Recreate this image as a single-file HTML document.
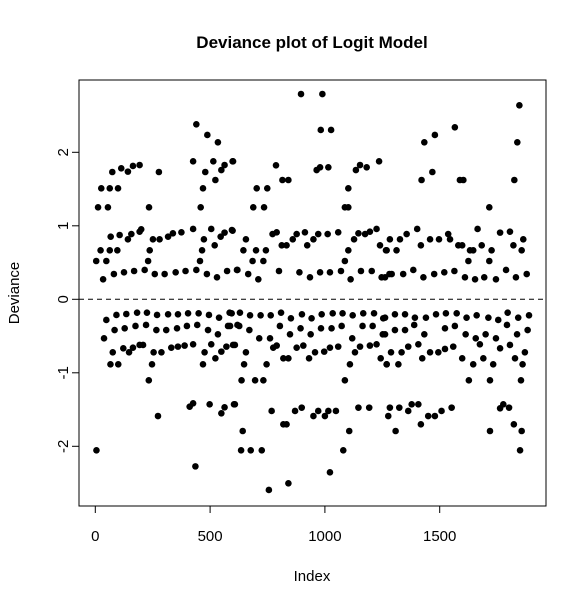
<!DOCTYPE html>
<html><head><meta charset="utf-8"><style>
body{margin:0;background:#fff;}
svg{display:block;font-family:"Liberation Sans",Arial,sans-serif;}
</style></head><body>
<svg id="chart" width="587" height="604">
<text x="312" y="48" text-anchor="middle" font-size="17" font-weight="bold">Deviance plot of Logit Model</text>
<text x="312" y="581" text-anchor="middle" font-size="15">Index</text>
<text transform="translate(19,293) rotate(-90)" text-anchor="middle" font-size="15">Deviance</text>
<rect x="79" y="80" width="467" height="426" fill="none" stroke="#000" stroke-width="1"/>
<g id="axes"></g><g id="pts"></g>
</svg>
<script>
const xTicks=[0,500,1000,1500];
const yTicks=[-2,-1,0,1,2];
const idx=[440,488,534,426,514,479,549,563,600,74,113,142,164,193,277,26,63,99,469,523,12,55,234,459,
67,106,142,157,193,200,251,280,317,338,375,426,473,505,520,546,563,595,23,63,96,237,465,4,48,230,456,
34,81,125,169,215,259,302,350,393,440,486,530,574,617,
48,92,135,182,225,269,317,360,404,450,495,539,585,
38,84,128,175,221,266,309,356,399,444,491,534,578,619,
76,122,147,164,193,208,254,288,331,360,389,426,476,505,523,549,571,600,66,100,247,469,233,
411,426,498,549,563,604,273,5,436,
896,989,982,1027,598,787,964,979,1015,1135,1153,1182,1236,703,749,815,841,1102,688,735,1087,1102,
598,656,772,790,812,833,860,877,913,923,950,971,1012,1058,1127,1146,1175,1196,1225,1240,1266,645,700,743,1102,685,732,1087,
619,666,710,800,889,935,979,1022,1070,1112,1157,1204,1247,1281,
594,630,674,720,764,809,852,900,942,986,1034,1077,1121,1167,1214,1254,
587,627,671,714,761,804,848,894,938,983,1029,1073,1119,1164,1208,1252,
608,656,775,790,819,841,877,906,931,957,997,1022,1058,1131,1153,1196,1225,1243,1269,648,746,1109,637,696,732,1087,
608,768,819,833,870,899,950,971,1000,1015,1048,1146,1193,1276,642,1106,635,677,725,1080,1022,841,756,
1847,1566,1479,1433,1838,1421,1468,1588,1603,1825,1716,
1283,1327,1356,1402,1418,1458,1497,1537,1545,1581,1598,1632,1646,1665,1683,1726,1763,1806,1821,1864,1857,1269,1312,1625,1716,
1262,1291,1341,1385,1429,1476,1520,1564,1610,1654,1694,1745,1789,1832,1879,
1262,1305,1349,1392,1440,1484,1527,1574,1617,1661,1712,1755,1796,1842,1889,
1262,1305,1349,1389,1433,1523,1566,1613,1657,1700,1745,1793,1837,1883,
1288,1334,1363,1407,1424,1458,1494,1523,1559,1598,1646,1675,1690,1733,1763,1806,1828,1871,1861,1269,1320,1627,1719,1854,
1283,1324,1363,1378,1407,1418,1450,1479,1508,1552,1763,1777,1802,1719,1823,1857,1308,1850];
const dev=[2.381,2.236,2.136,1.877,1.877,1.732,1.759,1.827,1.877,1.732,1.782,1.737,1.814,1.827,1.732,1.51,1.51,1.51,1.51,1.623,1.251,1.251,1.251,1.251,
.852,.875,.816,.888,.92,.952,.816,.816,.852,.898,.911,.957,.816,.957,.734,.852,.907,.943,.666,.666,.666,.666,.666,.521,.521,.521,.521,
.272,.344,.367,.385,.399,.344,.344,.367,.385,.399,.344,.299,.385,.399,
-.281,-.213,-.2,-.182,-.182,-.213,-.204,-.204,-.191,-.191,-.213,-.25,-.182,
-.531,-.418,-.395,-.363,-.349,-.418,-.418,-.395,-.363,-.349,-.418,-.476,-.363,-.349,
-.721,-.667,-.721,-.658,-.621,-.621,-.721,-.721,-.658,-.644,-.63,-.612,-.721,-.612,-.803,-.712,-.644,-.621,-.885,-.885,-.885,-.885,-1.102,
-1.461,-1.415,-1.429,-1.551,-1.47,-1.429,-1.588,-2.055,-2.273,
2.793,2.793,2.304,2.304,1.877,1.823,1.759,1.796,1.796,1.759,1.827,1.796,1.877,1.51,1.51,1.623,1.623,1.51,1.251,1.251,1.251,1.251,
.934,.816,.888,.911,.734,.734,.816,.888,.911,.734,.816,.888,.888,.911,.816,.898,.888,.92,.957,.734,.666,.666,.666,.666,.666,.521,.521,.521,
.399,.344,.272,.385,.367,.299,.367,.367,.385,.272,.385,.385,.299,.344,
-.191,-.182,-.218,-.218,-.218,-.182,-.259,-.204,-.259,-.204,-.191,-.191,-.218,-.191,-.191,-.259,
-.363,-.363,-.418,-.531,-.531,-.363,-.476,-.395,-.476,-.395,-.395,-.363,-.531,-.363,-.363,-.476,
-.621,-.721,-.658,-.63,-.803,-.803,-.658,-.63,-.803,-.721,-.712,-.658,-.644,-.721,-.644,-.63,-.612,-.803,-.885,-.885,-.885,-.885,-1.102,-1.102,-1.102,-1.102,
-1.429,-1.519,-1.701,-1.701,-1.519,-1.474,-1.588,-1.519,-1.588,-1.519,-1.519,-1.474,-1.474,-1.588,-1.792,-1.792,-2.055,-2.055,-2.055,-2.055,-2.354,-2.504,-2.594,
2.639,2.34,2.236,2.136,2.136,1.623,1.732,1.623,1.623,1.623,1.251,
.816,.816,.888,.957,.734,.816,.816,.888,.816,.734,.734,.666,.666,.957,.734,.666,.907,.92,.734,.816,.666,.666,.666,.521,.521,
.299,.344,.344,.399,.299,.344,.367,.385,.299,.272,.299,.272,.399,.299,.344,
-.25,-.204,-.204,-.25,-.25,-.204,-.191,-.191,-.25,-.218,-.25,-.281,-.182,-.25,-.218,
-.476,-.418,-.418,-.349,-.476,-.395,-.363,-.476,-.531,-.476,-.531,-.349,-.476,-.418,
-.721,-.721,-.644,-.612,-.803,-.721,-.721,-.676,-.644,-.803,-.885,-.612,-.803,-.885,-.667,-.621,-.803,-.721,-.885,-.885,-.885,-1.102,-1.102,-1.102,
-1.474,-1.474,-1.519,-1.429,-1.429,-1.701,-1.588,-1.588,-1.519,-1.474,-1.483,-1.429,-1.474,-1.792,-1.701,-1.792,-1.792,-2.055];
const NS="http://www.w3.org/2000/svg";
const X=v=>95.3+v*0.2296;
const Y=v=>299.3-v*73.5;
const axes=document.getElementById('axes'),pts=document.getElementById('pts');
function mk(tag,attrs,parent){const e=document.createElementNS(NS,tag);for(const k in attrs)e.setAttribute(k,attrs[k]);parent.appendChild(e);return e;}
let l=mk('line',{x1:X(0),x2:X(1500),y1:506,y2:506,stroke:'#000'},axes);


l=mk('line',{x1:79,x2:79,y1:Y(-2),y2:Y(2),stroke:'#000'},axes);


xTicks.forEach(t=>{
  const tk=mk('line',{x1:X(t),x2:X(t),y1:506,y2:513,stroke:'#000'},axes);
  
  
  const tx=mk('text',{x:X(t),y:541,'text-anchor':'middle','font-size':15},axes);
  tx.textContent=t;
  
  
});
yTicks.forEach(t=>{
  const tk=mk('line',{x1:72,x2:79,y1:Y(t),y2:Y(t),stroke:'#000'},axes);
  
  
  const tx=mk('text',{transform:`translate(68,${Y(t)}) rotate(-90)`,'text-anchor':'middle','font-size':15},axes);
  tx.textContent=t<0?'-'+Math.abs(t):t;
  
  
});
l=mk('line',{x1:79,x2:546,y1:Y(0),y2:Y(0),stroke:'#000','stroke-dasharray':'5,4'},axes);


for(let i=0;i<idx.length;i++){
  const c=mk('circle',{cx:X(idx[i]),cy:Y(dev[i]),r:3.3,fill:'#000'},pts);
  
  
}
</script>
</body></html>
